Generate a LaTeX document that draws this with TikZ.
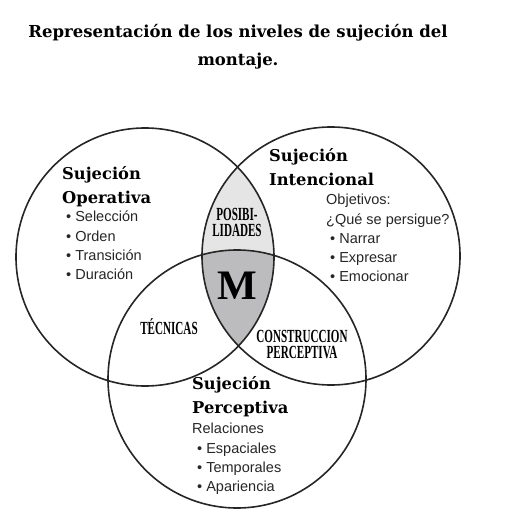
\documentclass[tikz,border=0pt]{standalone}
\usepackage{fontspec}
\setmainfont{Liberation Serif}
\setsansfont{Liberation Sans}
\newfontfamily\titular{DejaVu Serif}
\newfontfamily\estrecha[FakeStretch=0.6]{Liberation Serif}
\usetikzlibrary{positioning}
\definecolor{grisclaro}{RGB}{229,229,230}
\definecolor{grisoscuro}{RGB}{188,188,190}

\begin{document}
\begin{tikzpicture}[x=1pt, y=-1pt,
  every node/.style={inner sep=0pt},
  encabezado/.style={font=\titular\fontsize{16.3}{24}\selectfont\bfseries, align=left, anchor=north west},
  lista/.style={font=\sffamily\fontsize{14.5}{19.3}\selectfont, align=left, anchor=north west, text=black!85},
  cruce/.style={font=\estrecha\bfseries\fontsize{18.5}{16}\selectfont, align=center},
  aro/.style={draw=black!85, line width=1.6pt}]
  \useasboundingbox (0,0) rectangle (505,521);

  % Titulo
  \node[font=\titular\fontsize{16.5}{28}\selectfont\bfseries, align=center] (titulo) at (238,47)
    {Representación de los niveles de sujeción del\\montaje.};

  % Centros
  \coordinate (cO) at (145,257);
  \coordinate (cI) at (331,256);
  \coordinate (cP) at (237,379);

  % Zonas comunes
  \begin{scope}
    \clip (cO) circle (129pt);
    \fill[grisclaro] (cI) circle (129pt);
    \clip (cI) circle (129pt);
    \fill[grisoscuro] (cP) circle (129pt);
  \end{scope}

  % Circulos
  \draw[aro] (cO) circle (129pt);
  \draw[aro] (cI) circle (129pt);
  \draw[aro] (cP) circle (129pt);

  % Sujecion operativa
  \node[encabezado] (operativa) at (62,166) {Sujeción\\Operativa};
  \node[lista] (listaO) at (66,211)
    {\textbullet\ Selección\\\textbullet\ Orden\\\textbullet\ Transición\\\textbullet\ Duración};

  % Sujecion intencional
  \node[encabezado] (intencional) at (269,148) {Sujeción\\Intencional};
  \node[lista] (listaI) at (326,194)
    {Objetivos:\\¿Qué se persigue?\\\hspace{4pt}\textbullet\ Narrar\\\hspace{4pt}\textbullet\ Expresar\\\hspace{4pt}\textbullet\ Emocionar};

  % Sujecion perceptiva
  \node[encabezado] (perceptiva) at (192,376) {Sujeción\\Perceptiva};
  \node[lista] (listaP) at (192,423)
    {Relaciones\\\hspace{5pt}\textbullet\ Espaciales\\\hspace{5pt}\textbullet\ Temporales\\\hspace{5pt}\textbullet\ Apariencia};

  % Cruces
  \node[cruce] (posibilidades) at (237,222) {POSIBI-\\LIDADES};
  \node[cruce] (tecnicas) at (169,327) {TÉCNICAS};
  \node[cruce] (construccion) at (302,345) {CONSTRUCCION\\PERCEPTIVA};
  \node[font=\fontsize{42}{42}\selectfont\bfseries] (montaje) at (237,286) {M};
\end{tikzpicture}
\end{document}
